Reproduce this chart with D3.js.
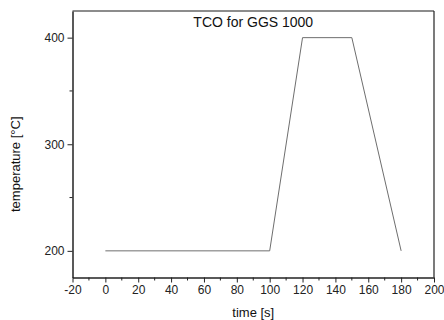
<!DOCTYPE html>
<html><head><meta charset="utf-8">
<script src="https://cdn.jsdelivr.net/npm/d3@7"></script>
<style>body{margin:0;background:#fff}svg{display:block}text{font-family:"Liberation Sans",Arial,sans-serif}</style>
</head><body>
<script>
const timeValues = [0, 100, 120, 150, 180];
const temperatureValues = [200, 200, 400, 400, 200];
const xTickValues = [-20, 0, 20, 40, 60, 80, 100, 120, 140, 160, 180, 200];
const yTickValues = [200, 300, 400];
const titleText = "TCO for GGS 1000";
const xLabel = "time [s]";
const yLabel = "temperature [°C]";

const W = 444, H = 320;
const m = {l: 72.5, r: 434, t: 11, b: 277.5};
const svg = d3.select("body").append("svg").attr("width", W).attr("height", H);
const x = d3.scaleLinear().domain([-20, 200]).range([m.l, m.r]);
const y = d3.scaleLinear().domain([175, 425]).range([m.b, m.t]);

// frame: top gray, right black
svg.append("line").attr("x1", m.l).attr("x2", m.r).attr("y1", m.t).attr("y2", m.t)
  .attr("stroke", "#8c8c8c").attr("stroke-width", 2);
svg.append("line").attr("x1", m.r).attr("x2", m.r).attr("y1", m.t).attr("y2", m.b)
  .attr("stroke", "#222").attr("stroke-width", 1.2);

// minor ticks
const xMinor = d3.range(-10, 200, 20);
svg.append("g").selectAll("line").data(xMinor).join("line")
  .attr("x1", d => x(d)).attr("x2", d => x(d)).attr("y1", m.b).attr("y2", m.b + 3)
  .attr("stroke", "#222").attr("stroke-width", 1);
const yMinor = [250, 350];
svg.append("g").selectAll("line").data(yMinor).join("line")
  .attr("y1", d => y(d)).attr("y2", d => y(d)).attr("x1", m.l).attr("x2", m.l - 3)
  .attr("stroke", "#222").attr("stroke-width", 1);

const fmt = d => String(d);
const xAxis = svg.append("g").attr("transform", `translate(0,${m.b})`)
  .call(d3.axisBottom(x).tickValues(xTickValues).tickFormat(fmt).tickSize(5).tickPadding(3).tickSizeOuter(0));
const yAxis = svg.append("g").attr("transform", `translate(${m.l},0)`)
  .call(d3.axisLeft(y).tickValues(yTickValues).tickFormat(fmt).tickSize(5).tickPadding(3).tickSizeOuter(0));
[xAxis, yAxis].forEach(g => {
  g.select(".domain").attr("stroke", "#222").attr("stroke-width", 1.5);
  g.selectAll(".tick line").attr("stroke", "#222");
  g.selectAll("text").attr("font-size", 12).attr("fill", "#222")
    .attr("font-family", '"Liberation Sans",Arial,sans-serif');
});

const line = d3.line().x((d, i) => x(timeValues[i])).y((d, i) => y(temperatureValues[i]));
svg.append("path").datum(timeValues).attr("d", line)
  .attr("fill", "none").attr("stroke", "#6e6e6e").attr("stroke-width", 1);

svg.append("text").attr("x", (m.l + m.r) / 2).attr("y", 27).attr("text-anchor", "middle")
  .attr("font-size", 14).attr("fill", "#111").text(titleText);
svg.append("text").attr("x", (m.l + m.r) / 2).attr("y", 317).attr("text-anchor", "middle")
  .attr("font-size", 13).attr("fill", "#111").text(xLabel);
svg.append("text").attr("transform", `translate(20,${(m.t + m.b) / 2 + 20}) rotate(-90)`)
  .attr("text-anchor", "middle").attr("font-size", 13).attr("fill", "#111").text(yLabel);
</script>
</body></html>
